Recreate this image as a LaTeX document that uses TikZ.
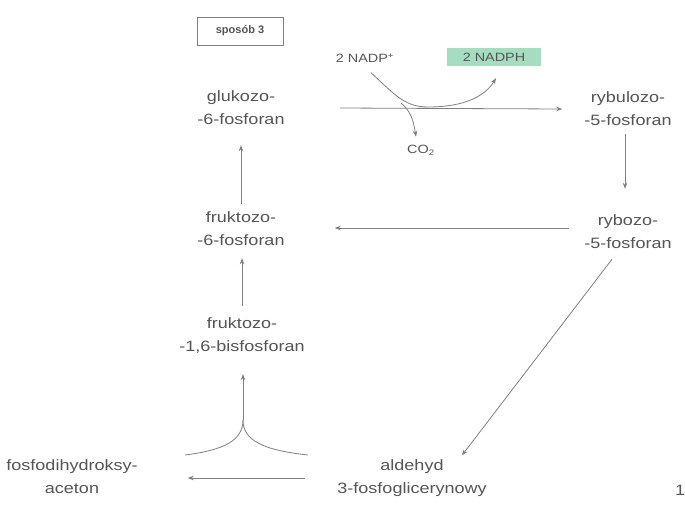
\documentclass[tikz,border=0pt]{standalone}
\usepackage{fontspec}
\setmainfont{Liberation Sans}
\usetikzlibrary{arrows.meta,calc}
\definecolor{txt}{HTML}{555555}
\definecolor{ln}{HTML}{808080}
\definecolor{mint}{HTML}{A6DCC0}
\begin{document}
\begin{tikzpicture}[x=1pt,y=-1pt,
  met/.style={font=\fontsize{15}{23}\selectfont, text=txt, align=center, xscale=1.2, inner sep=0pt},
  cof/.style={font=\fontsize{12}{14}\selectfont, text=txt, xscale=1.2, inner sep=0pt},
  link/.style={draw=ln, line width=0.8pt},
  rx/.style={link, -{Stealth[length=6pt,width=4.5pt]}}]
\useasboundingbox (0,0) rectangle (685,512);
\fill[white] (0,0) rectangle (685,512);

% heading box
\node[draw=ln, line width=0.6pt, minimum width=86pt, minimum height=28pt,
      font=\bfseries\fontsize{11}{13}\selectfont, text=txt] (mode) at (240,31) {sposób 3};

% metabolites
\node[met] (g6p)  at (241,108) {glukozo-\\-6-fosforan};
\node[met] (ru5p) at (628,109) {rybulozo-\\-5-fosforan};
\node[met] (r5p)  at (628,232) {rybozo-\\-5-fosforan};
\node[met] (f6p)  at (241,229) {fruktozo-\\-6-fosforan};
\node[met] (fbp)  at (242,336) {fruktozo-\\-1,6-bisfosforan};
\node[met] (gap)  at (412,478) {aldehyd\\3-fosfoglicerynowy};
\node[met] (dhap) at (72,477)  {fosfodihydroksy-\\aceton};
\node[met] (pg)   at (680,490) {1};

% cofactors
\node[cof] (nadp) at (365,58) {2 NADP\textsuperscript{+}};
\node[cof, fill=mint, minimum width=78pt, minimum height=18pt] (nadph) at (494,57) {2 NADPH};
\node[cof] (co2) at (421,150) {CO\textsubscript{2}};

% oxidative branch
\draw[rx] ($(g6p.east)+(55,0)$) -- ($(ru5p.west)+(-22,0)$);
\draw[rx] ($(nadp.south)+(6,10)$) .. controls (395,95) and (405,107) .. (428,107)
          .. controls (465,107) and (485,96) .. ($(nadph.south)+(2,12)$);
\draw[rx] (401,103) .. controls (410,111) and (413,118) .. ($(co2.north)+(-5,-8)$);

% non-oxidative part
\draw[rx] ($(ru5p.south)+(-3,8)$) -- ($(r5p.north)+(-3,-26)$);
\draw[rx] ($(r5p.west)+(-15,-4)$) -- ($(f6p.east)+(50,-1)$);
\draw[rx] ($(f6p.north)+(0,-8)$) -- ($(g6p.south)+(0,20)$);
\draw[rx] ($(fbp.north)+(0,-12)$) -- ($(fbp.north |- f6p.south)+(0,12)$);
\draw[rx] ($(r5p.south)+(-16,10)$) -- ($(gap.north)+(50,-4)$);
\draw[rx] ($(gap.west)+(-32,0)$) -- ($(dhap.east)+(50,1)$);

% triose phosphates joining into the bisphosphate
\coordinate (jn) at (243,420);
\coordinate (yl) at (185,455);
\coordinate (yr) at (308,455);
\draw[link] (yl) .. controls (225,450) and (243,440) .. (jn);
\draw[link] (yr) .. controls (262,450) and (243,440) .. (jn);
\draw[rx] (jn) -- ($(jn |- fbp.south)+(0,20)$);
\end{tikzpicture}
\end{document}
